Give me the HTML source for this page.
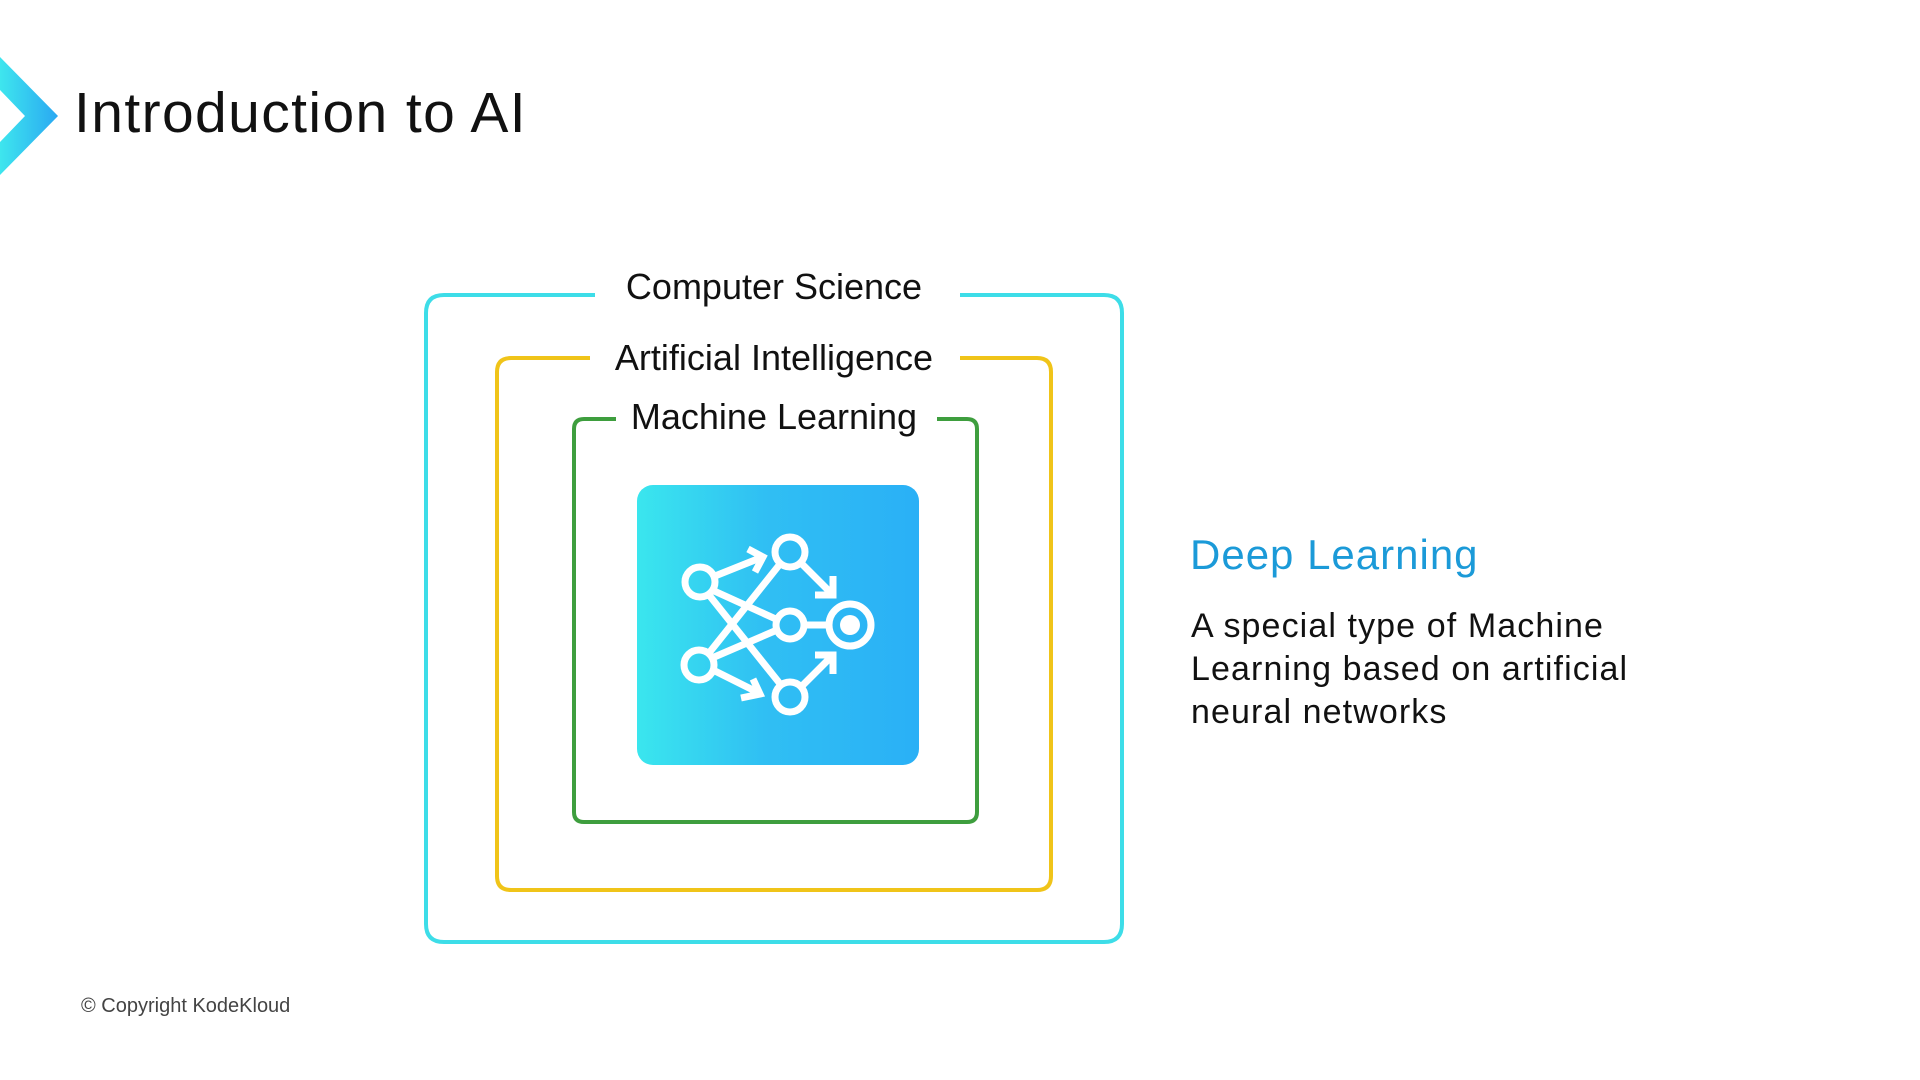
<!DOCTYPE html>
<html><head><meta charset="utf-8"><style>
html,body{margin:0;padding:0;background:#fff;}
body{width:1920px;height:1080px;position:relative;overflow:hidden;font-family:"Liberation Sans",sans-serif;}
.t{position:absolute;white-space:nowrap;color:#111;}
</style></head><body>
<svg width="1920" height="1080" style="position:absolute;left:0;top:0">
<defs>
<linearGradient id="cg" x1="0" y1="0" x2="1" y2="0"><stop offset="0" stop-color="#3ee6ee"/><stop offset="1" stop-color="#2aa8f2"/></linearGradient>
<linearGradient id="ig" x1="0" y1="0" x2="1" y2="0"><stop offset="0" stop-color="#3ae6ee"/><stop offset="0.45" stop-color="#30bff3"/><stop offset="1" stop-color="#2ab0f6"/></linearGradient>
</defs>
<polygon points="0,57 58,116 0,175 0,142 25,116 0,90" fill="url(#cg)"/>
<path d="M595,295 H444 Q426,295 426,313 V924 Q426,942 444,942 H1104 Q1122,942 1122,924 V313 Q1122,295 1104,295 H960" fill="none" stroke="#3ddde8" stroke-width="4"/>
<path d="M590,358 H511 Q497,358 497,372 V876 Q497,890 511,890 H1037 Q1051,890 1051,876 V372 Q1051,358 1037,358 H960" fill="none" stroke="#f0c419" stroke-width="4"/>
<path d="M616,419 H584 Q574,419 574,429 V812 Q574,822 584,822 H967 Q977,822 977,812 V429 Q977,419 967,419 H937" fill="none" stroke="#3e9e3e" stroke-width="4"/>
<rect x="637" y="485" width="282" height="280" rx="16" fill="url(#ig)"/>
<g stroke="#fff" stroke-width="7" fill="none" stroke-linecap="butt">
<line x1="712" y1="590" x2="778" y2="620"/>
<line x1="709" y1="653" x2="780" y2="564"/>
<line x1="709" y1="595" x2="781" y2="685"/>
<line x1="712" y1="658" x2="777" y2="630"/>
<line x1="805" y1="625" x2="826" y2="625"/>
<line x1="715" y1="576" x2="760" y2="558"/>
<polyline points="748,549 763,557 755,572"/>
<line x1="715" y1="671" x2="757" y2="692"/>
<polyline points="741,698 760,694 753,679"/>
<line x1="802" y1="564" x2="830" y2="592"/>
<polyline points="833,576 833,595 815,595"/>
<line x1="802" y1="686" x2="830" y2="658"/>
<polyline points="815,655 833,655 833,674"/>
<circle cx="700" cy="582" r="15"/>
<circle cx="699" cy="665" r="15"/>
<circle cx="790" cy="552" r="15"/>
<circle cx="790" cy="625" r="14"/>
<circle cx="790" cy="697" r="15"/>
<circle cx="850" cy="625" r="21"/>
</g>
<circle cx="850" cy="625" r="10" fill="#fff"/>
</svg>
<div class="t" style="left:74px;top:80px;font-size:57px;letter-spacing:1.4px;">Introduction to AI</div>
<div class="t" style="left:574px;width:400px;text-align:center;top:266px;font-size:36px;">Computer Science</div>
<div class="t" style="left:574px;width:400px;text-align:center;top:337px;font-size:36px;">Artificial Intelligence</div>
<div class="t" style="left:574px;width:400px;text-align:center;top:396px;font-size:36px;">Machine Learning</div>
<div class="t" style="left:1190px;top:531px;font-size:42px;color:#1b9ad8;letter-spacing:1px;">Deep Learning</div>
<div class="t" style="left:1191px;top:605px;font-size:34px;line-height:43px;letter-spacing:1.1px;">A special type of Machine<br>Learning based on artificial<br>neural networks</div>
<div class="t" style="left:81px;top:995px;font-size:20px;color:#444;">© Copyright KodeKloud</div>
</body></html>
